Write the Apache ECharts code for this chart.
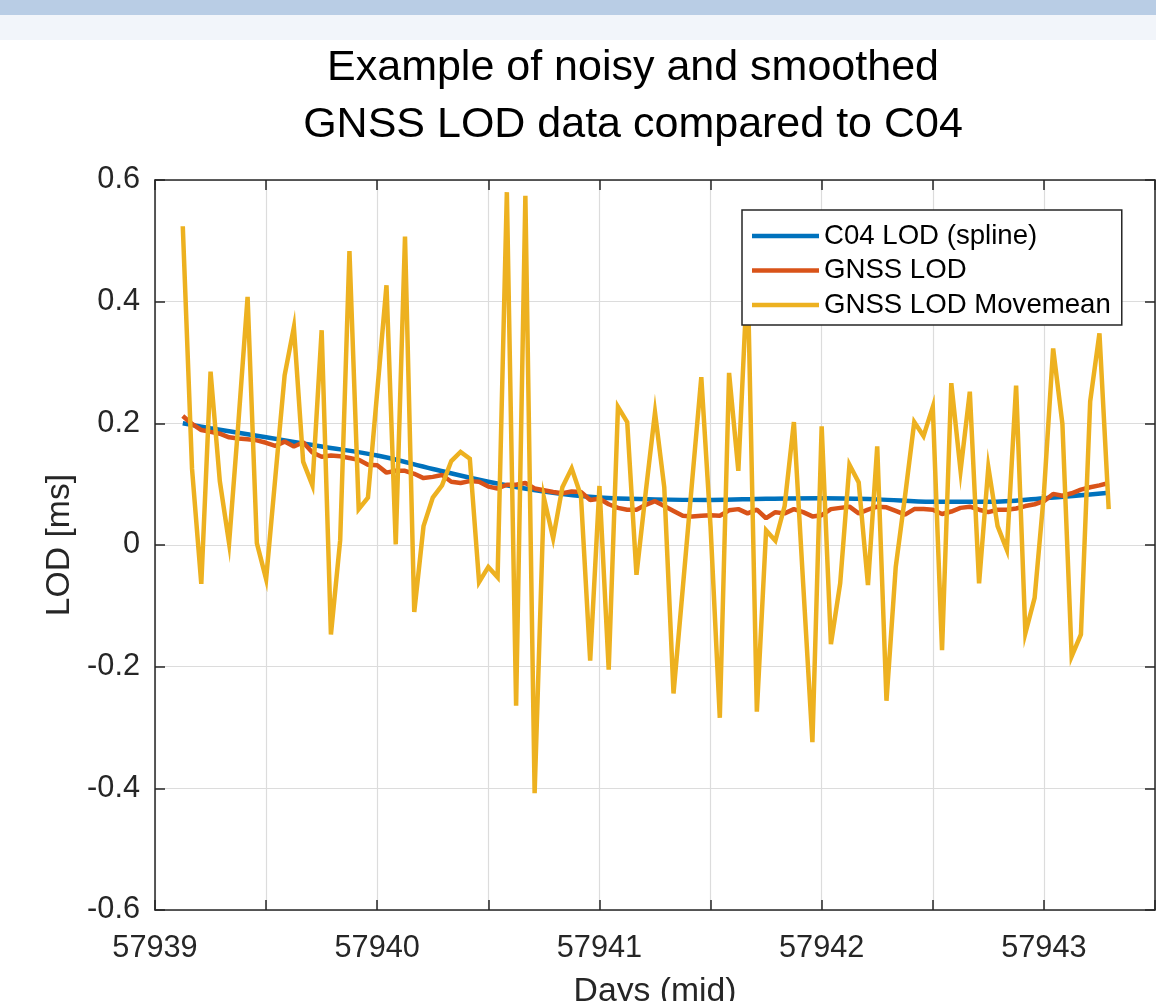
<!DOCTYPE html>
<html>
<head>
<meta charset="utf-8">
<script src="https://cdn.jsdelivr.net/npm/echarts@6/dist/echarts.min.js"></script>
<style>
html,body{margin:0;padding:0;background:#ffffff;}
#chart{width:1156px;height:1001px;}
</style>
</head>
<body>
<div id="chart"></div>
<script>
// ---- data ----
const titleLines = ['Example of noisy and smoothed', 'GNSS LOD data compared to C04'];
const seriesNames = ['C04 LOD (spline)', 'GNSS LOD', 'GNSS LOD Movemean'];
const xAxisName = 'Days (mid)';
const yAxisName = 'LOD [ms]';
const xTickLabels = { 57939: '57939', 57940: '57940', 57941: '57941', 57942: '57942', 57943: '57943' };
const yTickLabels = ['-0.6', '-0.4', '-0.2', '0', '0.2', '0.4', '0.6'];

// hourly samples starting at MJD 57939.125
const startDay = 57939.125;
const hoursPerDay = 24;

// C04 LOD (spline), read at these days
const c04Days = [57939.125, 57939.25, 57939.5, 57939.75, 57940.0, 57940.25, 57940.5, 57940.75, 57941.0,
  57941.25, 57941.5, 57941.75, 57942.0, 57942.25, 57942.5, 57942.75, 57943.0, 57943.2917];
const c04Lod = [0.200, 0.192, 0.177, 0.162, 0.147, 0.125, 0.104, 0.088, 0.078,
  0.075, 0.074, 0.076, 0.077, 0.075, 0.071, 0.071, 0.077, 0.086];

// GNSS LOD (hourly)
const gnssLod = [
  0.212, 0.199, 0.189, 0.186, 0.183, 0.177, 0.175, 0.174, 0.172, 0.168,
  0.163, 0.170, 0.162, 0.169, 0.152, 0.145, 0.147, 0.146, 0.143, 0.140,
  0.132, 0.131, 0.119, 0.122, 0.122, 0.117, 0.110, 0.112, 0.115, 0.104,
  0.102, 0.105, 0.104, 0.096, 0.093, 0.099, 0.099, 0.102, 0.093, 0.090,
  0.087, 0.085, 0.088, 0.087, 0.074, 0.076, 0.067, 0.061, 0.058, 0.058,
  0.066, 0.072, 0.064, 0.056, 0.048, 0.047, 0.048, 0.049, 0.048, 0.057,
  0.059, 0.052, 0.058, 0.044, 0.054, 0.052, 0.059, 0.054, 0.047, 0.049,
  0.059, 0.061, 0.063, 0.052, 0.058, 0.063, 0.062, 0.056, 0.050, 0.059,
  0.059, 0.058, 0.051, 0.055, 0.061, 0.063, 0.058, 0.054, 0.058, 0.058,
  0.060, 0.064, 0.067, 0.072, 0.084, 0.081, 0.085, 0.091, 0.095, 0.098,
  0.102
];

// GNSS LOD Movemean (hourly)
const gnssMovemean = [
  0.524, 0.125, -0.064, 0.285, 0.105, 0.003, 0.200, 0.408, 0.003, -0.056,
  0.112, 0.279, 0.358, 0.137, 0.098, 0.353, -0.147, 0.008, 0.483, 0.059,
  0.078, 0.252, 0.427, 0.001, 0.507, -0.110, 0.031, 0.078, 0.098, 0.138,
  0.153, 0.142, -0.061, -0.036, -0.053, 0.580, -0.264, 0.574, -0.408, 0.078,
  0.011, 0.095, 0.126, 0.081, -0.190, 0.097, -0.205, 0.227, 0.202, -0.049,
  0.087, 0.218, 0.095, -0.244, -0.071, 0.103, 0.276, 0.030, -0.284, 0.283,
  0.122, 0.450, -0.274, 0.024, 0.007, 0.064, 0.202, -0.063, -0.324, 0.195,
  -0.163, -0.063, 0.132, 0.103, -0.066, 0.162, -0.256, -0.036, 0.080, 0.202,
  0.179, 0.227, -0.173, 0.266, 0.122, 0.252, -0.063, 0.128, 0.031, -0.008,
  0.262, -0.145, -0.087, 0.084, 0.323, 0.199, -0.183, -0.147, 0.236, 0.348,
  0.059
];

// ---- chart ----
const FONT = '"Liberation Sans", Arial, Helvetica, sans-serif';
const AXIS_COLOR = '#262626';
const GRID_COLOR = '#dcdcdc';

const hourly = arr => arr.map((v, i) => [startDay + i / hoursPerDay, v]);
const c04Data = c04Days.map((d, i) => [d, c04Lod[i]]);

const xLabel = v => {
  const k = Math.round(v);
  return Math.abs(v - k) < 1e-6 && xTickLabels[k] ? xTickLabels[k] : '';
};
const yLabel = v => {
  const idx = Math.round((v + 0.6) / 0.2);
  return yTickLabels[idx] !== undefined ? yTickLabels[idx] : '';
};

const chart = echarts.init(document.getElementById('chart'), null, { renderer: 'canvas' });
chart.setOption({
  animation: false,
  backgroundColor: '#ffffff',
  textStyle: { fontFamily: FONT },
  graphic: [
    { type: 'rect', left: 0, top: 0, z: -10, shape: { width: 1156, height: 15 }, style: { fill: '#b9cde5' } },
    { type: 'rect', left: 0, top: 15, z: -10, shape: { width: 1156, height: 25 }, style: { fill: '#f2f5fa' } }
  ],
  title: {
    text: titleLines.join('\n'),
    left: 628,
    top: 35,
    textAlign: 'center',
    textStyle: { fontFamily: FONT, fontSize: 43, fontWeight: 'normal', color: '#000000', lineHeight: 57 }
  },
  legend: {
    data: seriesNames,
    orient: 'vertical',
    left: 742,
    top: 210,
    z: 20,
    padding: [12, 11, 6, 10],
    itemGap: 6.5,
    icon: 'rect',
    itemWidth: 67,
    itemHeight: 4.5,
    backgroundColor: '#ffffff',
    borderColor: AXIS_COLOR,
    borderWidth: 1.5,
    borderRadius: 0,
    textStyle: { fontFamily: FONT, fontSize: 27.6, color: '#000000', lineHeight: 28 }
  },
  grid: { left: 155, right: 1, top: 180, bottom: 91, containLabel: false, outerBoundsMode: 'none' },
  xAxis: [
    {
      type: 'value', min: 57939, max: 57943.5, interval: 0.5, position: 'bottom',
      name: xAxisName, nameLocation: 'middle', nameGap: 65,
      nameTextStyle: { fontFamily: FONT, fontSize: 33.7, color: AXIS_COLOR },
      axisLine: { show: true, onZero: false, lineStyle: { color: AXIS_COLOR, width: 1.5 } },
      axisTick: { show: true, inside: true, length: 10, lineStyle: { color: AXIS_COLOR, width: 1.5 } },
      axisLabel: { show: true, margin: 23, formatter: xLabel, fontFamily: FONT, fontSize: 30.7, color: AXIS_COLOR, showMinLabel: true, showMaxLabel: true },
      splitLine: { show: true, lineStyle: { color: GRID_COLOR, width: 1.2 } }
    },
    {
      type: 'value', min: 57939, max: 57943.5, interval: 0.5, position: 'top',
      axisLine: { show: true, onZero: false, lineStyle: { color: AXIS_COLOR, width: 1.5 } },
      axisTick: { show: true, inside: true, length: 10, lineStyle: { color: AXIS_COLOR, width: 1.5 } },
      axisLabel: { show: false },
      splitLine: { show: false }
    }
  ],
  yAxis: [
    {
      type: 'value', min: -0.6, max: 0.6, interval: 0.2, position: 'left',
      name: yAxisName, nameLocation: 'middle', nameGap: 69, nameRotate: 90,
      nameTextStyle: { fontFamily: FONT, fontSize: 33.7, color: AXIS_COLOR },
      axisLine: { show: true, onZero: false, lineStyle: { color: AXIS_COLOR, width: 1.5 } },
      axisTick: { show: true, inside: true, length: 10, lineStyle: { color: AXIS_COLOR, width: 1.5 } },
      axisLabel: { show: true, margin: 15, formatter: yLabel, fontFamily: FONT, fontSize: 30.7, color: AXIS_COLOR },
      splitLine: { show: true, lineStyle: { color: GRID_COLOR, width: 1.2 } }
    },
    {
      type: 'value', min: -0.6, max: 0.6, interval: 0.2, position: 'right',
      axisLine: { show: true, onZero: false, lineStyle: { color: AXIS_COLOR, width: 1.5 } },
      axisTick: { show: true, inside: true, length: 10, lineStyle: { color: AXIS_COLOR, width: 1.5 } },
      axisLabel: { show: false },
      splitLine: { show: false }
    }
  ],
  series: [
    {
      name: seriesNames[0], type: 'line', xAxisIndex: 0, yAxisIndex: 0,
      data: c04Data, smooth: 0.4, symbol: 'none', z: 2,
      lineStyle: { color: '#0072BD', width: 4.5 }, itemStyle: { color: '#0072BD' }
    },
    {
      name: seriesNames[1], type: 'line', xAxisIndex: 0, yAxisIndex: 0,
      data: hourly(gnssLod), symbol: 'none', z: 2,
      lineStyle: { color: '#D95319', width: 4.5 }, itemStyle: { color: '#D95319' }
    },
    {
      name: seriesNames[2], type: 'line', xAxisIndex: 0, yAxisIndex: 0,
      data: hourly(gnssMovemean), symbol: 'none', z: 2,
      lineStyle: { color: '#EDB120', width: 4.5, join: 'miter' }, itemStyle: { color: '#EDB120' }
    }
  ]
});
</script>
</body>
</html>
